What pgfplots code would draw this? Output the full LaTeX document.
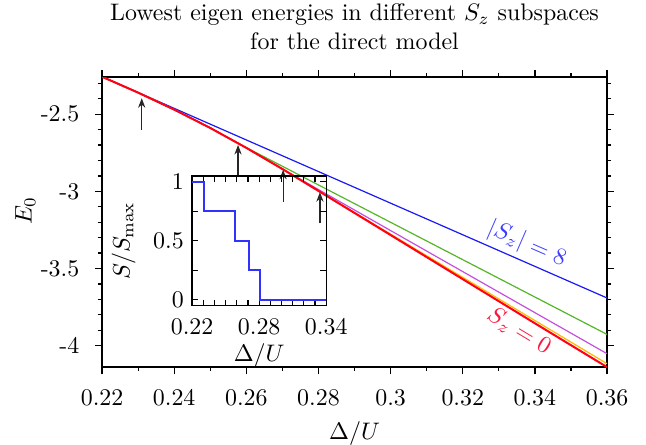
\documentclass[border=0pt]{standalone}
\usepackage{pgfplots}
\pgfplotsset{compat=1.18}
\usetikzlibrary{arrows.meta}

\definecolor{cblue}{RGB}{25,25,245}
\definecolor{cgreen}{RGB}{85,180,40}
\definecolor{cpurple}{RGB}{195,80,220}
\definecolor{corange}{RGB}{255,185,0}
\definecolor{cred}{RGB}{255,0,20}
\definecolor{labblue}{RGB}{60,60,255}
\definecolor{labred}{RGB}{255,20,60}
\definecolor{stepblue}{RGB}{50,50,255}

\begin{document}
\begin{tikzpicture}
\begin{axis}[scale only axis, width=211.3pt, height=121.3pt,
  at={(0,0)}, anchor=south west,
  xmin=0.22, xmax=0.36, ymin=-4.139, ymax=-2.26,
  xtick={0.22,0.24,0.26,0.28,0.3,0.32,0.34,0.36},
  minor xtick={0.23,0.25,0.27,0.29,0.31,0.33,0.35},
  ytick={-4,-3.5,-3,-2.5}, yticklabels={-4,-3.5,-3,-2.5},
  minor ytick={-3.9,-3.8,-3.7,-3.6,-3.4,-3.3,-3.2,-3.1,-2.9,-2.8,-2.7,-2.6,-2.4,-2.3},
  tick align=outside, major tick length=3pt, minor tick length=1.7pt,
  axis line style={line width=0.6pt},
  every tick/.style={black, line width=0.5pt},
  xticklabel style={yshift=-3pt},
  yticklabel style={xshift=-3pt},
  xlabel={$\Delta/U$}, ylabel={$E_0$},
  xlabel style={at={(axis description cs:0.5,-0.228)}, anchor=center},
  ylabel style={at={(axis description cs:-0.152,0.54)}, anchor=center},
  title={Lowest eigen energies in different $S_z$ subspaces\\for the direct model},
  title style={align=center, yshift=2pt},
  clip=true]
  % |Sz| = 8
  \addplot[cblue, line width=0.5pt] coordinates {(0.22,-2.257) (0.36,-3.691)};
  % |Sz| = 6
  \addplot[cgreen, line width=0.5pt] coordinates {
    (0.22,-2.257)(0.23,-2.360)(0.24,-2.470)(0.25,-2.589)(0.258,-2.692)(0.36,-3.927)};
  % |Sz| = 4
  \addplot[cpurple, line width=0.5pt] coordinates {
    (0.22,-2.257)(0.23,-2.360)(0.24,-2.470)(0.25,-2.589)(0.26,-2.718)(0.27,-2.855)(0.36,-4.052)};
  % |Sz| = 2
  \addplot[corange, line width=0.5pt] coordinates {
    (0.22,-2.257)(0.23,-2.360)(0.24,-2.470)(0.25,-2.589)(0.26,-2.718)(0.27,-2.855)(0.28,-2.997)(0.36,-4.117)};
  % Sz = 0
  \addplot[cred, line width=0.85pt] coordinates {
    (0.22,-2.257)(0.23,-2.360)(0.24,-2.470)(0.25,-2.589)(0.26,-2.718)(0.27,-2.855)
    (0.28,-2.997)(0.29,-3.140)(0.30,-3.283)(0.31,-3.426)(0.32,-3.569)(0.33,-3.712)
    (0.34,-3.855)(0.35,-3.997)(0.36,-4.139)};
  % transition arrows
  \addplot[black!85, line width=0.5pt, -{Stealth[length=4pt,width=3pt]}] coordinates {(0.231,-2.603)(0.231,-2.396)};
  \addplot[black!85, line width=0.5pt, -{Stealth[length=4pt,width=3pt]}] coordinates {(0.2577,-2.905)(0.2577,-2.699)};
  \addplot[black!85, line width=0.5pt, -{Stealth[length=4pt,width=3pt]}] coordinates {(0.2702,-3.066)(0.2702,-2.860)};
  \addplot[black!85, line width=0.5pt, -{Stealth[length=4pt,width=3pt]}] coordinates {(0.2804,-3.208)(0.2804,-3.005)};
  \node[rotate=-23.6, text=labblue] at (axis cs:0.3378,-3.342) {$|S_z| = 8$};
  \node[rotate=-31, text=labred] at (axis cs:0.3356,-3.907) {$S_z = 0$};
\end{axis}
\begin{axis}[scale only axis, width=56.1pt, height=54.2pt,
  at={(37.7pt,25.8pt)}, anchor=south west,
  xmin=0.22, xmax=0.34, ymin=-0.05, ymax=1.05,
  xtick={0.22,0.28,0.34},
  minor xtick={0.23,0.24,0.25,0.26,0.27,0.29,0.30,0.31,0.32,0.33},
  ytick={0,0.5,1}, minor ytick={0.25,0.75},
  xticklabel style={/pgf/number format/fixed, /pgf/number format/precision=2, yshift=-2pt},
  tick align=inside, major tick length=2.4pt, minor tick length=2.4pt,
  axis line style={line width=0.6pt},
  every tick/.style={black, line width=0.5pt},
  xlabel={$\Delta/U$}, ylabel={$S/S_{\max}$},
  xlabel style={at={(axis description cs:0.5,-0.386)}, anchor=center},
  ylabel style={at={(axis description cs:-0.51,0.5)}, anchor=center}]
  \addplot[stepblue, line width=0.8pt, const plot] coordinates {
    (0.22,1)(0.231,0.75)(0.258,0.5)(0.2705,0.25)(0.2805,0)(0.34,0)};
\end{axis}
\pgfresetboundingbox
\useasboundingbox (-42.7pt,-32.2pt) rectangle (227.6pt,153.6pt);
\end{tikzpicture}
\end{document}
